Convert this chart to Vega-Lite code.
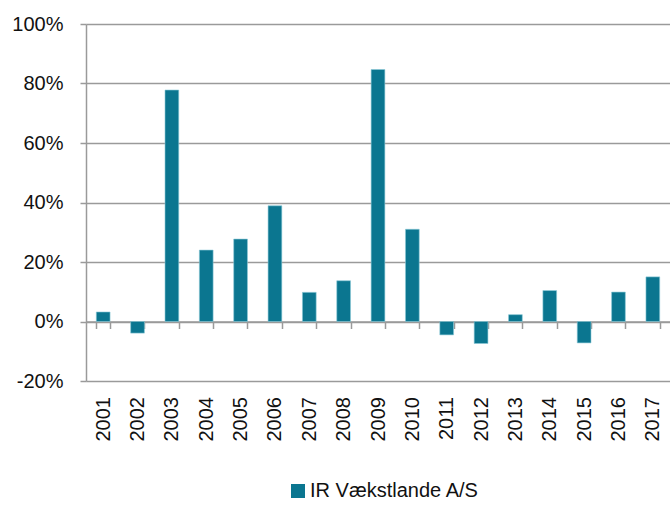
{
  "$schema": "https://vega.github.io/schema/vega-lite/v6.json",
  "width": 584,
  "height": 357,
  "autosize": {"type": "none"},
  "padding": {"left": 86, "top": 24, "right": 0, "bottom": 125},
  "background": "white",
  "data": {
    "values": [
      {"year": "2001", "value": 3.2},
      {"year": "2002", "value": -3.9},
      {"year": "2003", "value": 77.8},
      {"year": "2004", "value": 24.0},
      {"year": "2005", "value": 27.7},
      {"year": "2006", "value": 38.9},
      {"year": "2007", "value": 9.8},
      {"year": "2008", "value": 13.7},
      {"year": "2009", "value": 84.7},
      {"year": "2010", "value": 31.0},
      {"year": "2011", "value": -4.5},
      {"year": "2012", "value": -7.4},
      {"year": "2013", "value": 2.3},
      {"year": "2014", "value": 10.4},
      {"year": "2015", "value": -7.2},
      {"year": "2016", "value": 9.9},
      {"year": "2017", "value": 15.0}
    ]
  },
  "mark": {"type": "bar", "stroke": "#8cc9d6", "strokeWidth": 0.6},
  "encoding": {
    "x": {
      "field": "year",
      "type": "nominal",
      "sort": null,
      "scale": {"paddingInner": 0.6, "paddingOuter": 0.3},
      "axis": {
        "title": null,
        "orient": "bottom",
        "offset": -59.5,
        "domain": true,
        "domainColor": "#9a9a9a",
        "domainWidth": 1.5,
        "ticks": true,
        "tickBand": "extent",
        "tickColor": "#9a9a9a",
        "tickWidth": 1.5,
        "tickSize": 7,
        "labelAngle": -90,
        "labelAlign": "right",
        "labelBaseline": "middle",
        "labelPadding": 68,
        "labelFont": "Liberation Sans",
        "labelFontSize": 20,
        "labelColor": "#111111",
        "grid": false
      }
    },
    "y": {
      "field": "value",
      "type": "quantitative",
      "scale": {"domain": [-20, 100], "nice": false, "zero": false},
      "axis": {
        "title": null,
        "values": [-20, 0, 20, 40, 60, 80, 100],
        "labelExpr": "datum.value + '%'",
        "domain": true,
        "domainColor": "#9a9a9a",
        "domainWidth": 1.5,
        "ticks": true,
        "tickColor": "#9a9a9a",
        "tickWidth": 1.5,
        "tickSize": 6,
        "labelPadding": 17,
        "labelFont": "Liberation Sans",
        "labelFontSize": 20,
        "labelColor": "#111111",
        "grid": true,
        "gridColor": "#9a9a9a",
        "gridWidth": 1.5
      }
    },
    "color": {
      "datum": "IR Vækstlande A/S",
      "type": "nominal",
      "scale": {"range": ["#0b7690"]},
      "legend": {
        "title": null,
        "orient": "none",
        "legendX": 202,
        "legendY": 457,
        "symbolType": "square",
        "symbolSize": 196,
        "symbolStrokeWidth": 0,
        "labelFont": "Liberation Sans",
        "labelFontSize": 20,
        "labelColor": "#111111",
        "labelOffset": 2,
        "labelLimit": 0
      }
    }
  },
  "config": {"view": {"stroke": null}}
}
